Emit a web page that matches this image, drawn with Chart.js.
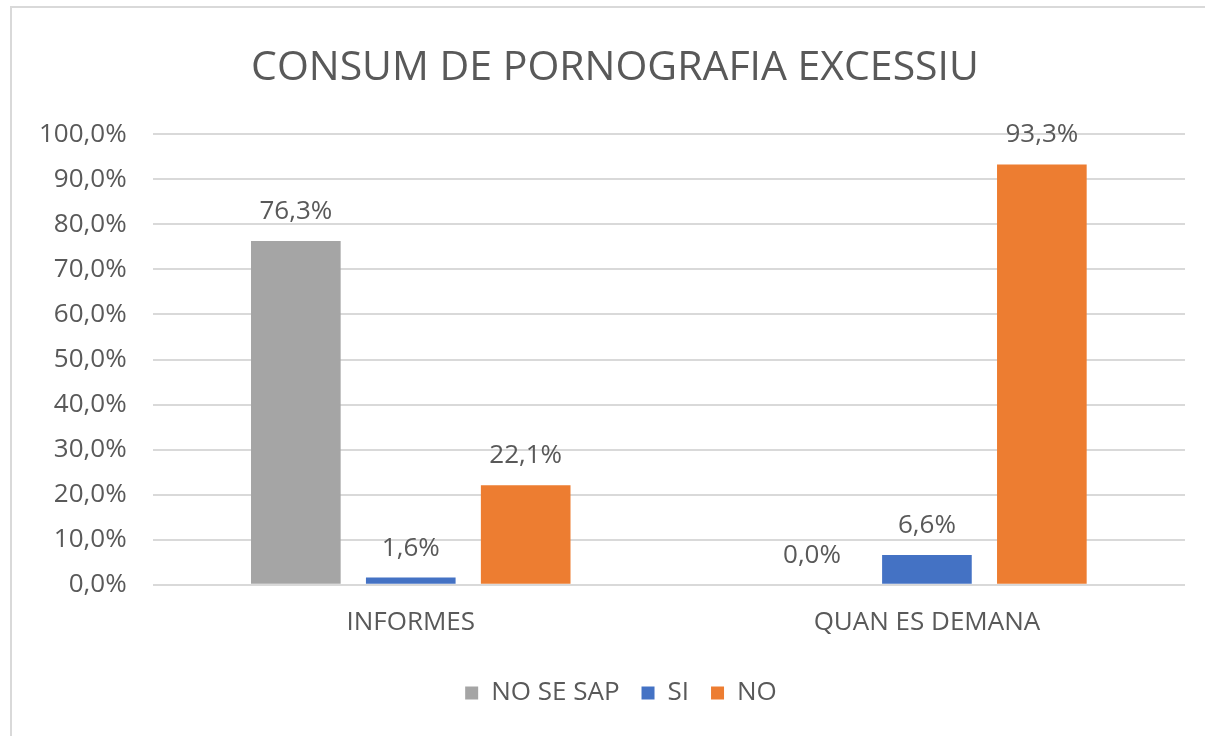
<!DOCTYPE html>
<html>
<head>
<meta charset="utf-8">
<script src="https://cdn.jsdelivr.net/npm/chart.js@4.4.1/dist/chart.umd.min.js"></script>
<style>
  body { margin: 0; background: #fff; }
  #frame { position: absolute; left: 10px; top: 6px; width: 1200px; height: 740px; border: 2px solid #d9d9d9; box-sizing: border-box; }
  #wrap { position: absolute; left: 0; top: 0; width: 1205px; height: 736px; }
</style>
</head>
<body>
<div id="frame"></div>
<div id="wrap"><canvas id="chart" width="1205" height="736"></canvas></div>
<script>
// chart data
const categories = ['INFORMES', 'QUAN ES DEMANA'];
const noSeSap = [76.3, 0.0];
const si = [1.6, 6.6];
const no = [22.1, 93.3];
const yTicks = [0, 10, 20, 30, 40, 50, 60, 70, 80, 90, 100];

const textColor = '#595959';
const fontFamily = '"Open Sans", "Noto Sans", sans-serif';

const fmt = v => v.toFixed(1).replace('.', ',') + '%';

// draw the value above each bar
const valueLabels = {
  id: 'valueLabels',
  afterDatasetsDraw(chart) {
    const ctx = chart.ctx;
    ctx.save();
    ctx.fillStyle = textColor;
    ctx.font = '26px ' + fontFamily;
    ctx.textAlign = 'center';
    ctx.textBaseline = 'alphabetic';
    chart.data.datasets.forEach((ds, i) => {
      chart.getDatasetMeta(i).data.forEach((bar, j) => {
        ctx.fillText(fmt(ds.data[j]), bar.x, bar.y - 22);
      });
    });
    ctx.restore();
  }
};

// nudge title and legend a bit to the right, like the original
const shiftBoxes = {
  id: 'shiftBoxes',
  afterLayout(chart) {
    if (chart.titleBlock) { chart.titleBlock.left += 16; chart.titleBlock.right += 16; }
    if (chart.legend) { chart.legend.left += 22; chart.legend.right += 22; }
  }
};

new Chart(document.getElementById('chart'), {
  type: 'bar',
  data: {
    labels: categories,
    datasets: [
      { label: 'NO SE SAP', data: noSeSap, backgroundColor: '#a5a5a5' },
      { label: 'SI', data: si, backgroundColor: '#4472c4' },
      { label: 'NO', data: no, backgroundColor: '#ed7d31' }
    ]
  },
  options: {
    responsive: false,
    animation: false,
    categoryPercentage: 0.668,
    barPercentage: 0.78,
    layout: { padding: { left: 13, right: 20, top: 28, bottom: 20 } },
    plugins: {
      title: {
        display: true,
        text: 'CONSUM DE PORNOGRAFIA EXCESSIU',
        color: textColor,
        font: { family: fontFamily, size: 41, weight: 'normal' },
        padding: { top: 16, bottom: 41 }
      },
      legend: {
        position: 'bottom',
        labels: {
          color: textColor,
          font: { family: fontFamily, size: 26 },
          boxWidth: 13,
          boxHeight: 13,
          padding: 22
        }
      },
      tooltip: { enabled: false }
    },
    scales: {
      x: {
        grid: { display: false },
        border: { display: false },
        ticks: { color: textColor, font: { family: fontFamily, size: 26 }, padding: 14 },
        afterFit: axis => { axis.height += 6; }
      },
      y: {
        min: 0,
        max: 100,
        afterBuildTicks: axis => { axis.ticks = yTicks.map(v => ({ value: v })); },
        grid: { color: '#d9d9d9', lineWidth: 2, drawTicks: false },
        border: { display: false },
        ticks: {
          color: textColor,
          font: { family: fontFamily, size: 26 },
          padding: 26,
          callback: v => fmt(v)
        }
      }
    }
  },
  plugins: [valueLabels, shiftBoxes]
});
</script>
</body>
</html>
